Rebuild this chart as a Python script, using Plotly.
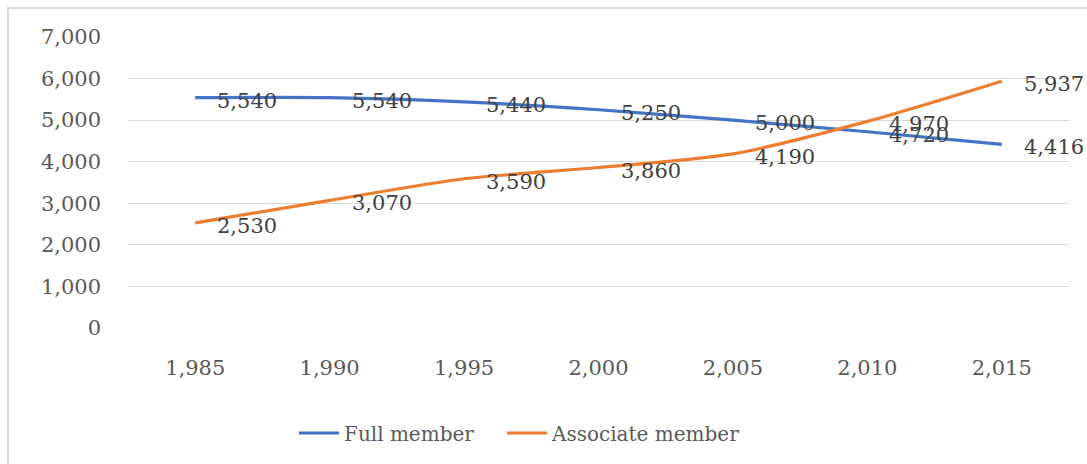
import plotly.graph_objects as go

# Membership counts by year
years = ["1,985", "1,990", "1,995", "2,000", "2,005", "2,010", "2,015"]
full_member = [5540, 5540, 5440, 5250, 5000, 4720, 4416]
associate_member = [2530, 3070, 3590, 3860, 4190, 4970, 5937]

series_names = ["Full member", "Associate member"]
series_colors = ["#4472C4", "#ED7D31"]
legend_ids = ["legend", "legend2"]
legend_left_px = [294, 502]

FONT = "DejaVu Serif"
W, H = 1087, 464
ML, MR, MT, MB = 128, 18, 37, 136
plot_w = W - ML - MR
plot_h = H - MT - MB

fig = go.Figure()
for name, vals, color, lg in zip(series_names, [full_member, associate_member],
                                 series_colors, legend_ids):
    fig.add_trace(go.Scatter(
        x=years, y=vals, name=name, mode="lines", legend=lg,
        line=dict(color=color, width=3.2, shape="spline", smoothing=0.7),
        hoverinfo="skip",
    ))
    # value labels to the right of each point
    for xv, yv in zip(years, vals):
        fig.add_annotation(
            x=xv, y=yv, text=f"{yv:,}", showarrow=False,
            xanchor="left", yanchor="middle", xshift=20, yshift=-3,
            font=dict(family=FONT, size=21, color="#404040"),
        )

# outer chart frame
fig.add_shape(
    type="rect", xref="paper", yref="paper",
    x0=(8 - ML) / plot_w, x1=(W + 20 - ML) / plot_w,
    y0=-(H + 20 - MT - plot_h) / plot_h, y1=1 + (MT - 8) / plot_h,
    line=dict(color="#d9d9d9", width=2), fillcolor="rgba(0,0,0,0)", layer="below",
)

legend_y = -(433 - MT - plot_h) / plot_h
legend_style = dict(
    orientation="h", xanchor="left", y=legend_y, yanchor="middle",
    font=dict(family=FONT, size=20, color="#595959"),
    bgcolor="rgba(0,0,0,0)", itemwidth=40,
)

fig.update_layout(
    width=W, height=H,
    margin=dict(l=ML, r=MR, t=MT, b=MB, pad=0),
    paper_bgcolor="white", plot_bgcolor="white",
    font=dict(family=FONT, size=21, color="#595959"),
    showlegend=True,
    legend=dict(x=(legend_left_px[0] - ML) / plot_w, **legend_style),
    legend2=dict(x=(legend_left_px[1] - ML) / plot_w, **legend_style),
    xaxis=dict(
        type="category", range=[-0.5, 6.5], showgrid=False, zeroline=False,
        showline=False, ticks="", ticklabelstandoff=25,
        tickfont=dict(family=FONT, size=21, color="#595959"),
    ),
    yaxis=dict(
        range=[0, 7000], dtick=1000, tickformat=",", showgrid=True,
        gridcolor="#d9d9d9", gridwidth=1, zeroline=False, showline=False,
        ticks="", ticklabelstandoff=26,
        tickfont=dict(family=FONT, size=21, color="#595959"),
    ),
)

fig.write_html("out.html")
